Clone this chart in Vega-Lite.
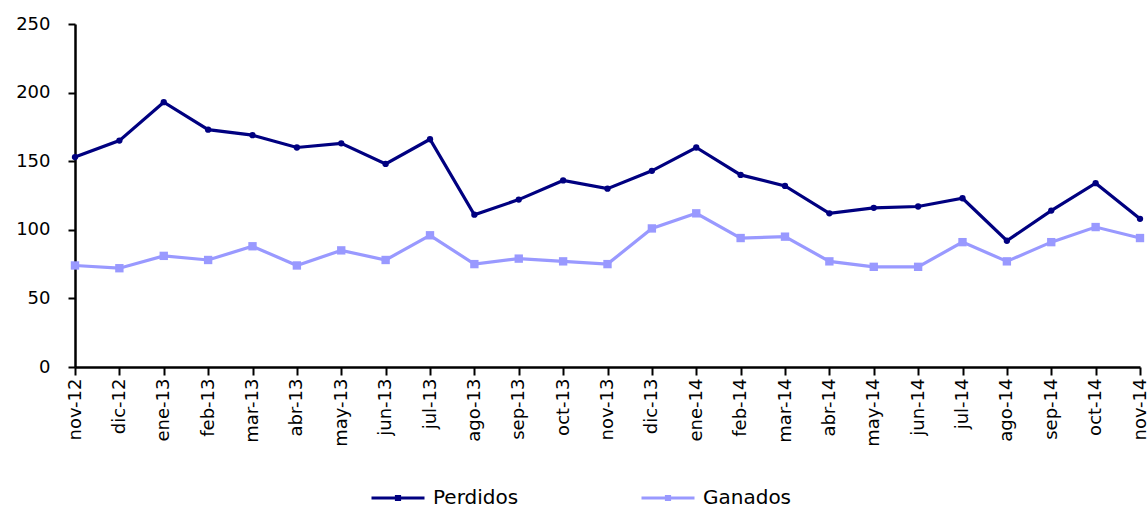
{
  "$schema": "https://vega.github.io/schema/vega-lite/v6.json",
  "autosize": {"type": "none"},
  "padding": {"left": 75, "top": 24, "right": 8, "bottom": 141},
  "width": 1065,
  "height": 343,
  "background": "white",
  "config": {
    "view": {"stroke": null},
    "font": "DejaVu Sans",
    "axis": {"grid": false, "domainColor": "black", "tickColor": "black", "labelColor": "black", "labelFont": "DejaVu Sans", "labelFontSize": 18}
  },
  "data": {
    "values": [
      {"mes": "nov-12", "serie": "Perdidos", "valor": 153},
      {"mes": "dic-12", "serie": "Perdidos", "valor": 165},
      {"mes": "ene-13", "serie": "Perdidos", "valor": 193},
      {"mes": "feb-13", "serie": "Perdidos", "valor": 173},
      {"mes": "mar-13", "serie": "Perdidos", "valor": 169},
      {"mes": "abr-13", "serie": "Perdidos", "valor": 160},
      {"mes": "may-13", "serie": "Perdidos", "valor": 163},
      {"mes": "jun-13", "serie": "Perdidos", "valor": 148},
      {"mes": "jul-13", "serie": "Perdidos", "valor": 166},
      {"mes": "ago-13", "serie": "Perdidos", "valor": 111},
      {"mes": "sep-13", "serie": "Perdidos", "valor": 122},
      {"mes": "oct-13", "serie": "Perdidos", "valor": 136},
      {"mes": "nov-13", "serie": "Perdidos", "valor": 130},
      {"mes": "dic-13", "serie": "Perdidos", "valor": 143},
      {"mes": "ene-14", "serie": "Perdidos", "valor": 160},
      {"mes": "feb-14", "serie": "Perdidos", "valor": 140},
      {"mes": "mar-14", "serie": "Perdidos", "valor": 132},
      {"mes": "abr-14", "serie": "Perdidos", "valor": 112},
      {"mes": "may-14", "serie": "Perdidos", "valor": 116},
      {"mes": "jun-14", "serie": "Perdidos", "valor": 117},
      {"mes": "jul-14", "serie": "Perdidos", "valor": 123},
      {"mes": "ago-14", "serie": "Perdidos", "valor": 92},
      {"mes": "sep-14", "serie": "Perdidos", "valor": 114},
      {"mes": "oct-14", "serie": "Perdidos", "valor": 134},
      {"mes": "nov-14", "serie": "Perdidos", "valor": 108},
      {"mes": "nov-12", "serie": "Ganados", "valor": 74},
      {"mes": "dic-12", "serie": "Ganados", "valor": 72},
      {"mes": "ene-13", "serie": "Ganados", "valor": 81},
      {"mes": "feb-13", "serie": "Ganados", "valor": 78},
      {"mes": "mar-13", "serie": "Ganados", "valor": 88},
      {"mes": "abr-13", "serie": "Ganados", "valor": 74},
      {"mes": "may-13", "serie": "Ganados", "valor": 85},
      {"mes": "jun-13", "serie": "Ganados", "valor": 78},
      {"mes": "jul-13", "serie": "Ganados", "valor": 96},
      {"mes": "ago-13", "serie": "Ganados", "valor": 75},
      {"mes": "sep-13", "serie": "Ganados", "valor": 79},
      {"mes": "oct-13", "serie": "Ganados", "valor": 77},
      {"mes": "nov-13", "serie": "Ganados", "valor": 75},
      {"mes": "dic-13", "serie": "Ganados", "valor": 101},
      {"mes": "ene-14", "serie": "Ganados", "valor": 112},
      {"mes": "feb-14", "serie": "Ganados", "valor": 94},
      {"mes": "mar-14", "serie": "Ganados", "valor": 95},
      {"mes": "abr-14", "serie": "Ganados", "valor": 77},
      {"mes": "may-14", "serie": "Ganados", "valor": 73},
      {"mes": "jun-14", "serie": "Ganados", "valor": 73},
      {"mes": "jul-14", "serie": "Ganados", "valor": 91},
      {"mes": "ago-14", "serie": "Ganados", "valor": 77},
      {"mes": "sep-14", "serie": "Ganados", "valor": 91},
      {"mes": "oct-14", "serie": "Ganados", "valor": 102},
      {"mes": "nov-14", "serie": "Ganados", "valor": 94}
    ]
  },
  "encoding": {
    "x": {
      "field": "mes", "type": "ordinal", "sort": null,
      "scale": {"type": "point", "padding": 0},
      "axis": {"title": null, "labelAngle": -90, "tickSize": 8, "labelPadding": 3, "domainWidth": 2.5, "tickWidth": 2}
    },
    "y": {
      "field": "valor", "type": "quantitative",
      "scale": {"domain": [0, 250], "nice": false},
      "axis": {"title": null, "values": [0, 50, 100, 150, 200, 250], "tickSize": 7, "labelPadding": 18, "domainWidth": 2.5, "tickWidth": 2}
    },
    "color": {
      "field": "serie", "type": "nominal",
      "scale": {"domain": ["Perdidos", "Ganados"], "range": ["#000080", "#9999FF"]},
      "legend": {
        "title": null, "orient": "none", "direction": "horizontal",
        "legendX": 295, "legendY": 446,
        "symbolType": "M-1,0H1M-0.06,-0.06H0.06V0.06H-0.06Z",
        "symbolSize": 2809, "symbolStrokeWidth": 3,
        "labelFont": "DejaVu Sans", "labelFontSize": 20, "labelColor": "black",
        "labelOffset": 7, "columnPadding": 116
      }
    }
  },
  "layer": [
    {"mark": {"type": "line", "strokeWidth": 3.2}},
    {
      "transform": [{"filter": "datum.serie === 'Perdidos'"}],
      "mark": {"type": "point", "filled": true, "opacity": 1, "shape": "circle", "size": 40}
    },
    {
      "transform": [{"filter": "datum.serie === 'Ganados'"}],
      "mark": {"type": "point", "filled": true, "opacity": 1, "shape": "square", "size": 70}
    }
  ]
}
